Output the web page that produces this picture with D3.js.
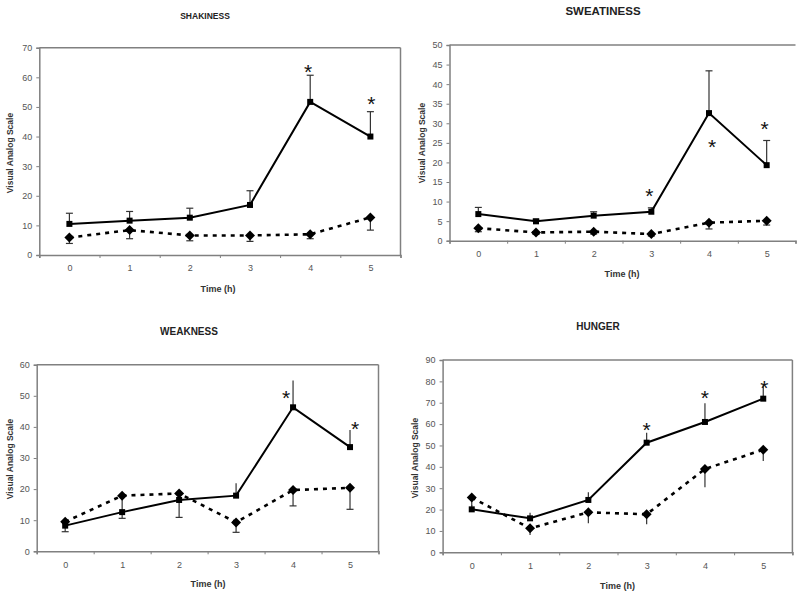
<!DOCTYPE html>
<html><head><meta charset="utf-8">
<script src="https://cdn.jsdelivr.net/npm/d3@7"></script>
<style>body{margin:0;background:#fff}svg{display:block}</style>
</head><body>
<svg id="c" width="800" height="597"></svg>
<script>
// ---- data ----
const times = [0, 1, 2, 3, 4, 5];
const xTickLabels = ["0", "1", "2", "3", "4", "5"];
const titles = ["SHAKINESS", "SWEATINESS", "WEAKNESS", "HUNGER"];

const shakSolid = [10.5, 11.6, 12.6, 16.9, 51.7, 40.0];
const shakSolidHi = [14.1, 14.7, 15.8, 21.7, 60.7, 48.4];
const shakDash = [5.9, 8.4, 6.6, 6.6, 7.0, 12.7];
const shakDashLo = [3.9, 5.5, 4.8, 4.6, 5.5, 8.4];
const shakTicks = [0, 10, 20, 30, 40, 50, 60, 70];
const shakStars = [{t: 4, v: 63.6, dx: -2}, {t: 5, v: 52.6, dx: 1}];

const sweatSolid = [6.8, 4.95, 6.4, 7.4, 32.6, 19.3];
const sweatSolidHi = [8.5, 5.5, 7.4, 8.4, 43.4, 25.6];
const sweatDash = [3.2, 2.1, 2.3, 1.7, 4.6, 5.1];
const sweatDashLo = [2.3, 1.6, 1.7, 1.2, 3.0, 4.0];
const sweatTicks = [0, 5, 10, 15, 20, 25, 30, 35, 40, 45, 50];
const sweatStars = [{t: 3, v: 12.7, dx: -2}, {t: 4, v: 25.2, dx: 3}, {t: 5, v: 29.8, dx: -2}];

const weakSolid = [8.25, 12.6, 16.5, 17.9, 46.3, 33.5];
const weakSolidHi = [null, null, null, 21.9, 54.9, 39.0];
const weakDash = [9.5, 17.9, 18.6, 9.3, 19.7, 20.4];
const weakDashLo = [6.3, 10.6, 10.9, 6.1, 14.6, 13.5];
const weakTicks = [0, 10, 20, 30, 40, 50, 60];
const weakStars = [{t: 4, v: 50.8, dx: -7}, {t: 5, v: 40.9, dx: 5}];

const hungSolid = [20.1, 15.9, 24.5, 51.3, 61.0, 71.9];
const hungSolidHi = [22.0, 18.5, 28.1, 56.0, 69.7, 78.3];
const hungDash = [25.6, 11.2, 18.7, 17.8, 39.0, 48.0];
const hungDashLo = [21.5, 8.1, 13.6, 13.1, 30.4, 42.7];
const hungTicks = [0, 10, 20, 30, 40, 50, 60, 70, 80, 90];
const hungStars = [{t: 3, v: 59.6, dx: 0}, {t: 4, v: 74.7, dx: 0}, {t: 5, v: 79.1, dx: 1}];

// ---- layout ----
const panels = [
  {title: titles[0], solid: shakSolid, hi: shakSolidHi, dash: shakDash, lo: shakDashLo, ticks: shakTicks, stars: shakStars,
   x0: 39.3, x1: 400.5, y0: 47.7, y1: 255, tx: 205, ty: 19, tfs: 8.5, yl: 10, ylc: 153, xlx: 218, xly: 292,
   capS: 7, capD: 7, right: true, top: true},
  {title: titles[1], solid: sweatSolid, hi: sweatSolidHi, dash: sweatDash, lo: sweatDashLo, ticks: sweatTicks, stars: sweatStars,
   x0: 449.5, x1: 795.5, y0: 45, y1: 240.7, tx: 603, ty: 15, tfs: 11.5, yl: 421.5, ylc: 143, xlx: 622, xly: 277,
   capS: 7, capD: 7, right: false, top: true},
  {title: titles[2], solid: weakSolid, hi: weakSolidHi, dash: weakDash, lo: weakDashLo, ticks: weakTicks, stars: weakStars,
   x0: 36.7, x1: 378.5, y0: 364.7, y1: 551.3, tx: 189, ty: 334.5, tfs: 10, yl: 10, ylc: 459, xlx: 208, xly: 586.5,
   capS: 0, capD: 7, right: true, top: true},
  {title: titles[3], solid: hungSolid, hi: hungSolidHi, dash: hungDash, lo: hungDashLo, ticks: hungTicks, stars: hungStars,
   x0: 442.6, x1: 792.4, y0: 360, y1: 552.3, tx: 598, ty: 330, tfs: 10, yl: 415, ylc: 458, xlx: 617.5, xly: 589,
   capS: 0, capD: 0, right: true, top: true}
];

const svg = d3.select("#c");
const FONT = "'Liberation Sans', Arial, sans-serif";
const AX = "#808080";

panels.forEach(p => {
  const g = svg.append("g");
  const x = d3.scaleLinear().domain([-0.5, 5.5]).range([p.x0, p.x1]);
  const y = d3.scaleLinear().domain([0, d3.max(p.ticks)]).range([p.y1, p.y0]);

  // frame
  if (p.top) g.append("line").attr("x1", p.x0).attr("x2", p.x1).attr("y1", p.y0).attr("y2", p.y0)
    .attr("stroke", AX).attr("stroke-width", 1.5);
  if (p.right) g.append("line").attr("x1", p.x1).attr("x2", p.x1).attr("y1", p.y0).attr("y2", p.y1)
    .attr("stroke", AX).attr("stroke-width", 1.5);

  // y axis
  const ya = g.append("g").attr("transform", `translate(${p.x0},0)`)
    .call(d3.axisLeft(y).tickValues(p.ticks).tickSize(3).tickPadding(4).tickFormat(d3.format("d")));
  // x axis ticks (boundaries)
  const xt = g.append("g").attr("transform", `translate(0,${p.y1})`)
    .call(d3.axisBottom(x).tickValues(d3.range(-0.5, 6, 1)).tickSize(3).tickFormat(""));
  const xl = g.append("g").attr("transform", `translate(0,${p.y1})`)
    .call(d3.axisBottom(x).tickValues(times).tickSize(0).tickPadding(10).tickFormat((d, i) => xTickLabels[i]));
  xl.select(".domain").remove();
  [ya, xt, xl].forEach(a => {
    a.selectAll(".domain").attr("stroke", AX).attr("stroke-width", 1.5);
    a.selectAll(".tick line").attr("stroke", AX).attr("stroke-width", 1);
    a.selectAll("text").attr("font-family", FONT).attr("font-size", 9).attr("fill", "#555");
  });

  // title and axis titles
  g.append("text").attr("x", p.tx).attr("y", p.ty).attr("text-anchor", "middle")
    .attr("font-family", FONT).attr("font-weight", "bold").attr("font-size", p.tfs).attr("fill", "#222").text(p.title);
  g.append("text").attr("transform", `translate(${p.yl},${p.ylc}) rotate(-90)`).attr("text-anchor", "middle")
    .attr("dominant-baseline", "central")
    .attr("font-family", FONT).attr("font-weight", "bold").attr("font-size", 8.5).attr("fill", "#333").text("Visual Analog Scale");
  g.append("text").attr("x", p.xlx).attr("y", p.xly).attr("text-anchor", "middle")
    .attr("font-family", FONT).attr("font-weight", "bold").attr("font-size", 9).attr("fill", "#333").text("Time (h)");

  // error bars
  const eb = (vals, ends, cap) => {
    times.forEach((t, i) => {
      if (ends[i] == null) return;
      const cx = x(t);
      g.append("line").attr("x1", cx).attr("x2", cx).attr("y1", y(vals[i])).attr("y2", y(ends[i]))
        .attr("stroke", "#333").attr("stroke-width", 1.2);
      if (cap) g.append("line").attr("x1", cx - cap / 2).attr("x2", cx + cap / 2).attr("y1", y(ends[i])).attr("y2", y(ends[i]))
        .attr("stroke", "#333").attr("stroke-width", 1.2);
    });
  };
  eb(p.solid, p.hi, p.capS);
  eb(p.dash, p.lo, p.capD);

  // lines
  const line = d3.line().x((d, i) => x(times[i])).y(d => y(d));
  g.append("path").datum(p.dash).attr("d", line).attr("fill", "none").attr("stroke", "#000")
    .attr("stroke-width", 2.6).attr("stroke-dasharray", "4,5");
  g.append("path").datum(p.solid).attr("d", line).attr("fill", "none").attr("stroke", "#000")
    .attr("stroke-width", 2);

  // markers
  g.selectAll(null).data(p.dash).enter().append("path")
    .attr("d", d3.symbol().type(d3.symbolSquare).size(50))
    .attr("transform", (d, i) => `translate(${x(times[i])},${y(d)}) rotate(45)`).attr("fill", "#000");
  g.selectAll(null).data(p.solid).enter().append("rect")
    .attr("x", (d, i) => x(times[i]) - 3).attr("y", d => y(d) - 3).attr("width", 6).attr("height", 6).attr("fill", "#000");

  // significance stars
  const fs = 21;
  g.selectAll(null).data(p.stars).enter().append("text")
    .attr("x", d => x(d.t) + d.dx).attr("y", d => y(d.v) + 0.57 * fs).attr("text-anchor", "middle")
    .attr("font-family", FONT).attr("font-size", fs).attr("fill", "#111").text("*");
});
</script>
</body></html>
